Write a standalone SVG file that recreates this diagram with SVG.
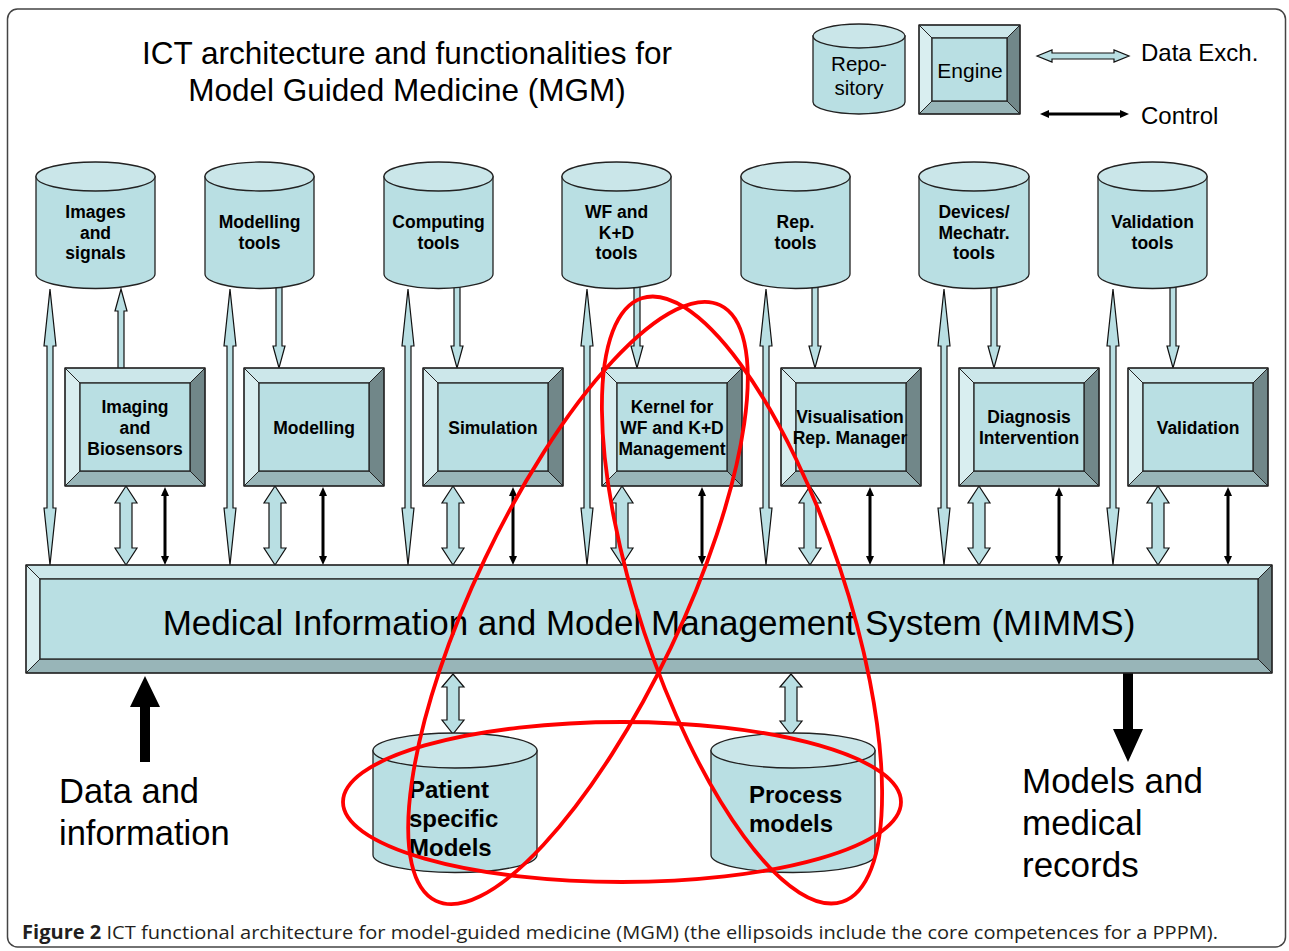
<svg xmlns="http://www.w3.org/2000/svg" xmlns:xlink="http://www.w3.org/1999/xlink" width="1289" height="951" viewBox="0 0 1289 951">
<defs>
<style>
.t{font-family:"Liberation Sans",Arial,sans-serif;fill:#000}
.lb{font-family:"Liberation Sans",Arial,sans-serif;font-weight:bold;font-size:17.5px;text-anchor:middle;fill:#000}
.face{fill:#b9dfe3;stroke:#222;stroke-width:1.3}
.bt{fill:#cce7ea;stroke:#222;stroke-width:1}
.bl{fill:#d9eef0;stroke:#222;stroke-width:1}
.br{fill:#718789;stroke:#222;stroke-width:1}
.bb{fill:#98b5b8;stroke:#222;stroke-width:1}
.edge{fill:none;stroke:#222;stroke-width:1.3}
.cylb{fill:#b9dfe3;stroke:#222;stroke-width:1.3}
.cylt{fill:#cae6e9;stroke:#222;stroke-width:1.3}
.ha{fill:#b9dfe3;stroke:#111;stroke-width:1.2}
.ctl{stroke:#000;stroke-width:3;fill:none;marker-start:url(#ah);marker-end:url(#ah)}
.big{fill:#000}
.red{fill:none;stroke:#f00;stroke-width:3.8}
</style>
<marker id="ah" viewBox="0 0 9 8" refX="0" refY="4" markerWidth="9" markerHeight="8" markerUnits="userSpaceOnUse" orient="auto-start-reverse"><path d="M0 0 L9 4 L0 8 Z" fill="#000"/></marker>
<g id="eng">
<polygon class="bt" points="0,0 140,0 125,15 15,15"/>
<polygon class="bl" points="0,0 15,15 15,103 0,118"/>
<polygon class="br" points="140,0 140,118 125,103 125,15"/>
<polygon class="bb" points="0,118 15,103 125,103 140,118"/>
<rect class="face" x="15" y="15" width="110" height="88"/>
<rect class="edge" x="0" y="0" width="140" height="118"/>
</g>
</defs>

<rect x="7.5" y="9" width="1278" height="938" rx="10" fill="#fff" stroke="#444" stroke-width="1.5"/>

<g id="title">
<text class="t" x="407" y="64" font-size="31.5" text-anchor="middle">ICT architecture and functionalities for</text>
<text class="t" x="407" y="101" font-size="31.5" text-anchor="middle">Model Guided Medicine (MGM)</text>
</g>

<g id="connectors">
<!-- legend -->
<path class="ha" d="M1037 56 L1052 50 L1052 53 L1114 53 L1114 50 L1129 56 L1114 62 L1114 59 L1052 59 L1052 62 Z"/>
<line class="ctl" x1="1049" y1="114" x2="1120" y2="114"/>
<!-- long thin double arrows cylinder <-> bus -->
<path class="ha" d="M50 289 L56 346 L53 346 L53 508 L56 508 L50 565 L44 508 L47 508 L47 346 L44 346 Z"/>
<path class="ha" d="M230 289 L236 346 L233 346 L233 508 L236 508 L230 565 L224 508 L227 508 L227 346 L224 346 Z"/>
<path class="ha" d="M408 289 L414 346 L411 346 L411 508 L414 508 L408 565 L402 508 L405 508 L405 346 L402 346 Z"/>
<path class="ha" d="M587 289 L593 346 L590 346 L590 508 L593 508 L587 565 L581 508 L584 508 L584 346 L581 346 Z"/>
<path class="ha" d="M766 289 L772 346 L769 346 L769 508 L772 508 L766 565 L760 508 L763 508 L763 346 L760 346 Z"/>
<path class="ha" d="M944 289 L950 346 L947 346 L947 508 L950 508 L944 565 L938 508 L941 508 L941 346 L938 346 Z"/>
<path class="ha" d="M1113 289 L1119 346 L1116 346 L1116 508 L1119 508 L1113 565 L1107 508 L1110 508 L1110 346 L1107 346 Z"/>
<!-- cylinder <-> engine -->
<path class="ha" d="M121 289 L127 311 L124 311 L124 370 L118 370 L118 311 L115 311 Z"/>
<path class="ha" d="M276 284 L282 284 L282 346 L285 346 L279 368 L273 346 L276 346 Z"/>
<path class="ha" d="M454 284 L460 284 L460 346 L463 346 L457 368 L451 346 L454 346 Z"/>
<path class="ha" d="M634 284 L640 284 L640 346 L643 346 L637 368 L631 346 L634 346 Z"/>
<path class="ha" d="M812 284 L818 284 L818 346 L821 346 L815 368 L809 346 L812 346 Z"/>
<path class="ha" d="M991 284 L997 284 L997 346 L1000 346 L994 368 L988 346 L991 346 Z"/>
<path class="ha" d="M1170 284 L1176 284 L1176 346 L1179 346 L1173 368 L1167 346 L1170 346 Z"/>
<!-- engine <-> bus data -->
<path class="ha" d="M126 486 L137 503 L132 503 L132 548 L137 548 L126 565 L115 548 L120 548 L120 503 L115 503 Z"/>
<path class="ha" d="M275 486 L286 503 L281 503 L281 548 L286 548 L275 565 L264 548 L269 548 L269 503 L264 503 Z"/>
<path class="ha" d="M453 486 L464 503 L459 503 L459 548 L464 548 L453 565 L442 548 L447 548 L447 503 L442 503 Z"/>
<path class="ha" d="M622 486 L633 503 L628 503 L628 548 L633 548 L622 565 L611 548 L616 548 L616 503 L611 503 Z"/>
<path class="ha" d="M810 486 L821 503 L816 503 L816 548 L821 548 L810 565 L799 548 L804 548 L804 503 L799 503 Z"/>
<path class="ha" d="M979 486 L990 503 L985 503 L985 548 L990 548 L979 565 L968 548 L973 548 L973 503 L968 503 Z"/>
<path class="ha" d="M1158 486 L1169 503 L1164 503 L1164 548 L1169 548 L1158 565 L1147 548 L1152 548 L1152 503 L1147 503 Z"/>
<!-- engine <-> bus control -->
<line class="ctl" x1="165" y1="496" x2="165" y2="556"/>
<line class="ctl" x1="323" y1="496" x2="323" y2="556"/>
<line class="ctl" x1="513" y1="496" x2="513" y2="556"/>
<line class="ctl" x1="702" y1="496" x2="702" y2="556"/>
<line class="ctl" x1="870" y1="496" x2="870" y2="556"/>
<line class="ctl" x1="1059" y1="496" x2="1059" y2="556"/>
<line class="ctl" x1="1228" y1="496" x2="1228" y2="556"/>
<!-- bus <-> bottom repositories -->
<path class="ha" d="M453 674 L464 687 L459 687 L459 720 L464 720 L453 734 L442 720 L447 720 L447 687 L442 687 Z"/>
<path class="ha" d="M791 674 L802 687 L797 687 L797 721 L802 721 L791 735 L780 721 L785 721 L785 687 L780 687 Z"/>
<!-- input / output -->
<path class="big" d="M145 676 L160 707 L150 707 L150 762 L140 762 L140 707 L130 707 Z"/>
<path class="big" d="M1123 673 L1133 673 L1133 729 L1143 729 L1128 762 L1113 729 L1123 729 Z"/>
</g>

<g id="legend-repository">
<path class="cylb" d="M813 36 V102 A46 12 0 0 0 905 102 V36 Z"/>
<ellipse class="cylt" cx="859" cy="36" rx="46" ry="12"/>
<text class="t" x="859" y="71" font-size="20.5" text-anchor="middle">Repo-</text>
<text class="t" x="859" y="95" font-size="20.5" text-anchor="middle">sitory</text>
</g>
<g id="legend-engine">
<polygon class="bt" points="919,25 1020,25 1007,38 932,38"/>
<polygon class="bl" points="919,25 932,38 932,101 919,114"/>
<polygon class="br" points="1020,25 1020,114 1007,101 1007,38"/>
<polygon class="bb" points="919,114 932,101 1007,101 1020,114"/>
<rect class="face" x="932" y="38" width="75" height="63"/>
<rect class="edge" x="919" y="25" width="101" height="89"/>
<text class="t" x="970" y="78" font-size="21" text-anchor="middle">Engine</text>
</g>
<g id="legend-labels">
<text class="t" x="1141" y="61" font-size="24">Data Exch.</text>
<text class="t" x="1141" y="123.5" font-size="24">Control</text>
</g>

<g id="cyl-images">
<path class="cylb" d="M36 176.5 V274 A59.5 14.5 0 0 0 155 274 V176.5 Z"/>
<ellipse class="cylt" cx="95.5" cy="176.5" rx="59.5" ry="14.5"/>
<text class="lb" x="95.5" y="218">Images</text>
<text class="lb" x="95.5" y="239">and</text>
<text class="lb" x="95.5" y="259">signals</text>
</g>
<g id="cyl-modelling-tools">
<path class="cylb" d="M205 176.5 V274 A54.5 14.5 0 0 0 314 274 V176.5 Z"/>
<ellipse class="cylt" cx="259.5" cy="176.5" rx="54.5" ry="14.5"/>
<text class="lb" x="259.5" y="228">Modelling</text>
<text class="lb" x="259.5" y="249">tools</text>
</g>
<g id="cyl-computing-tools">
<path class="cylb" d="M384 176.5 V274 A54.5 14.5 0 0 0 493 274 V176.5 Z"/>
<ellipse class="cylt" cx="438.5" cy="176.5" rx="54.5" ry="14.5"/>
<text class="lb" x="438.5" y="228">Computing</text>
<text class="lb" x="438.5" y="249">tools</text>
</g>
<g id="cyl-wf-tools">
<path class="cylb" d="M562 176.5 V274 A54.5 14.5 0 0 0 671 274 V176.5 Z"/>
<ellipse class="cylt" cx="616.5" cy="176.5" rx="54.5" ry="14.5"/>
<text class="lb" x="616.5" y="218">WF and</text>
<text class="lb" x="616.5" y="239">K+D</text>
<text class="lb" x="616.5" y="259">tools</text>
</g>
<g id="cyl-rep-tools">
<path class="cylb" d="M741 176.5 V274 A54.5 14.5 0 0 0 850 274 V176.5 Z"/>
<ellipse class="cylt" cx="795.5" cy="176.5" rx="54.5" ry="14.5"/>
<text class="lb" x="795.5" y="228">Rep.</text>
<text class="lb" x="795.5" y="249">tools</text>
</g>
<g id="cyl-devices-tools">
<path class="cylb" d="M919 176.5 V274 A55 14.5 0 0 0 1029 274 V176.5 Z"/>
<ellipse class="cylt" cx="974" cy="176.5" rx="55" ry="14.5"/>
<text class="lb" x="974" y="218">Devices/</text>
<text class="lb" x="974" y="239">Mechatr.</text>
<text class="lb" x="974" y="259">tools</text>
</g>
<g id="cyl-validation-tools">
<path class="cylb" d="M1098 176.5 V274 A54.5 14.5 0 0 0 1207 274 V176.5 Z"/>
<ellipse class="cylt" cx="1152.5" cy="176.5" rx="54.5" ry="14.5"/>
<text class="lb" x="1152.5" y="228">Validation</text>
<text class="lb" x="1152.5" y="249">tools</text>
</g>

<g id="eng-imaging">
<use xlink:href="#eng" x="65" y="368"/>
<text class="lb" x="135" y="413">Imaging</text>
<text class="lb" x="135" y="434">and</text>
<text class="lb" x="135" y="455">Biosensors</text>
</g>
<g id="eng-modelling">
<use xlink:href="#eng" x="244" y="368"/>
<text class="lb" x="314" y="434">Modelling</text>
</g>
<g id="eng-simulation">
<use xlink:href="#eng" x="423" y="368"/>
<text class="lb" x="493" y="434">Simulation</text>
</g>
<g id="eng-kernel">
<use xlink:href="#eng" x="602" y="368"/>
<text class="lb" x="672" y="413">Kernel for</text>
<text class="lb" x="672" y="434">WF and K+D</text>
<text class="lb" x="672" y="455">Management</text>
</g>
<g id="eng-visualisation">
<use xlink:href="#eng" x="781" y="368"/>
<text class="lb" x="850" y="423">Visualisation</text>
<text class="lb" x="850" y="444">Rep. Manager</text>
</g>
<g id="eng-diagnosis">
<use xlink:href="#eng" x="959" y="368"/>
<text class="lb" x="1029" y="423">Diagnosis</text>
<text class="lb" x="1029" y="444">Intervention</text>
</g>
<g id="eng-validation">
<use xlink:href="#eng" x="1128" y="368"/>
<text class="lb" x="1198" y="434">Validation</text>
</g>

<g id="mimms">
<polygon class="bt" points="26,565 1272,565 1258,579 40,579"/>
<polygon class="bl" points="26,565 40,579 40,659 26,673"/>
<polygon class="br" points="1272,565 1272,673 1258,659 1258,579"/>
<polygon class="bb" points="26,673 40,659 1258,659 1272,673"/>
<rect class="face" x="40" y="579" width="1218" height="80"/>
<rect class="edge" x="26" y="565" width="1246" height="108"/>
<text class="t" x="649" y="635" font-size="35" text-anchor="middle">Medical Information and Model Management System (MIMMS)</text>
</g>

<g id="cyl-patient">
<path class="cylb" d="M373 750.5 V855 A82 17.5 0 0 0 537 855 V750.5 Z"/>
<ellipse class="cylt" cx="455" cy="750.5" rx="82" ry="17.5"/>
<text class="t" x="409" y="798" font-size="24" font-weight="bold">Patient</text>
<text class="t" x="409" y="827" font-size="24" font-weight="bold">specific</text>
<text class="t" x="409" y="856" font-size="24" font-weight="bold">Models</text>
</g>
<g id="cyl-process">
<path class="cylb" d="M711 750.5 V855 A82 17.5 0 0 0 875 855 V750.5 Z"/>
<ellipse class="cylt" cx="793" cy="750.5" rx="82" ry="17.5"/>
<text class="t" x="749" y="803" font-size="24" font-weight="bold">Process</text>
<text class="t" x="749" y="832" font-size="24" font-weight="bold">models</text>
</g>

<g id="io-labels">
<text class="t" x="59" y="803" font-size="34.5">Data and</text>
<text class="t" x="59" y="845" font-size="34.5">information</text>
<text class="t" x="1022" y="793" font-size="35">Models and</text>
<text class="t" x="1022" y="835" font-size="35">medical</text>
<text class="t" x="1022" y="877" font-size="35">records</text>
</g>

<g id="core-competences">
<ellipse class="red" cx="622" cy="802" rx="279" ry="80"/>
<ellipse class="red" cx="742" cy="600" rx="318" ry="103" transform="rotate(71.6 742 600)"/>
<ellipse class="red" cx="578" cy="603" rx="330" ry="103" transform="rotate(-64.5 578 603)"/>
</g>

<g id="caption">
<text x="22" y="939" font-size="19" font-family="'Open Sans','Liberation Sans',Arial,sans-serif" fill="#231f20" textLength="1196" lengthAdjust="spacingAndGlyphs"><tspan font-weight="bold">Figure 2</tspan> ICT functional architecture for model-guided medicine (MGM) (the ellipsoids include the core competences for a PPPM).</text>
</g>
</svg>
